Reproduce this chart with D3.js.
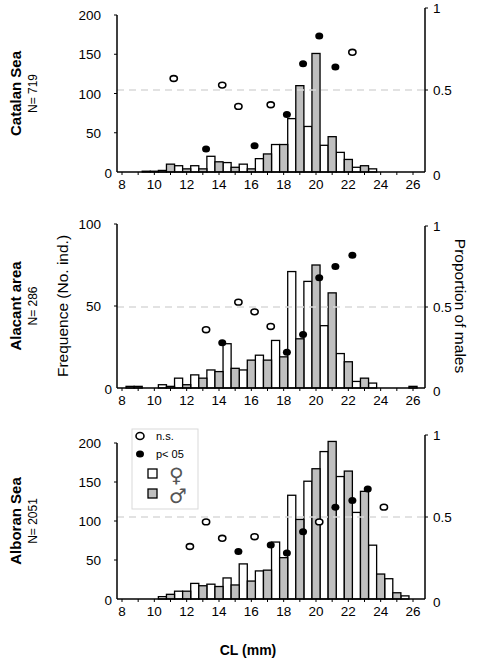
<!DOCTYPE html>
<html><head><meta charset="utf-8">
<script src="https://cdn.jsdelivr.net/npm/d3@7"></script>
<style>body{margin:0;background:#fff}text{font-family:Arial,"Liberation Sans",sans-serif}</style>
</head><body>
<svg id="chart" width="479" height="672"></svg>
<script>
// CL classes: female bar centred at k-0.5, male bar centred at k
var femaleCL = [9, 10, 11, 12, 13, 14, 15, 16, 17, 18, 19, 20, 21, 22, 23, 24, 25, 26];
var maleCL = [9, 10, 11, 12, 13, 14, 15, 16, 17, 18, 19, 20, 21, 22, 23, 24, 25, 26];

// Catalan Sea
var catFemale = [0, 1, 2, 8, 8, 20, 12, 10, 17, 35, 68, 58, 34, 25, 6, 4, 0, 0];
var catMale   = [0, 1, 10, 4, 4, 13, 6, 4, 23, 35, 110, 151, 45, 16, 8, 0, 0, 0];
var catNsX = [11.2, 14.2, 15.2, 17.2, 22.25];
var catNsY = [0.57, 0.53, 0.40, 0.41, 0.73];
var catSigX = [13.2, 16.2, 18.2, 19.2, 20.2, 21.2];
var catSigY = [0.14, 0.16, 0.35, 0.66, 0.83, 0.64];

// Alacant area
var alaFemale = [1, 0, 2, 6, 8, 11, 27, 11, 20, 29, 71, 65, 38, 21, 4, 3, 0, 0];
var alaMale   = [1, 0, 1, 2, 6, 10, 12, 17, 17, 19, 30, 75, 58, 16, 6, 0, 0, 1];
var alaNsX = [13.2, 15.2, 16.2, 17.2];
var alaNsY = [0.36, 0.53, 0.47, 0.38];
var alaSigX = [14.2, 18.2, 19.2, 20.2, 21.2, 22.25];
var alaSigY = [0.28, 0.22, 0.33, 0.68, 0.75, 0.82];

// Alboran Sea
var albFemale = [0, 0, 3, 10, 20, 19, 27, 45, 36, 73, 133, 151, 189, 157, 111, 69, 26, 4];
var albMale   = [0, 0, 6, 10, 17, 16, 18, 23, 37, 53, 102, 167, 202, 164, 138, 32, 8, 0];
var albNsX = [12.2, 13.2, 14.2, 16.2, 20.2, 24.2];
var albNsY = [0.32, 0.47, 0.37, 0.38, 0.47, 0.56];
var albSigX = [15.2, 17.2, 18.2, 19.2, 21.2, 22.25, 23.2];
var albSigY = [0.29, 0.33, 0.28, 0.41, 0.56, 0.60, 0.67];

var xTicks = [8, 9, 10, 11, 12, 13, 14, 15, 16, 17, 18, 19, 20, 21, 22, 23, 24, 25, 26];
var xLabels = [8, 10, 12, 14, 16, 18, 20, 22, 24, 26];

var svg = d3.select("#chart");
var x = d3.scaleLinear().domain([8, 26]).range([122, 413]);
var axL = 117, axR = 425;
var grey = "#bfbfbf";

var panels = [
  {name: "Catalan Sea", n: "N= 719", f: catFemale, m: catMale, nsX: catNsX, nsY: catNsY, sX: catSigX, sY: catSigY,
   y0: 172, yTop: 15, rTop: 8, max: 200, ticks: [50, 100, 150, 200]},
  {name: "Alacant area", n: "N= 286", f: alaFemale, m: alaMale, nsX: alaNsX, nsY: alaNsY, sX: alaSigX, sY: alaSigY,
   y0: 388, yTop: 224, rTop: 226, max: 100, ticks: [50, 100]},
  {name: "Alboran Sea", n: "N= 2051", f: albFemale, m: albMale, nsX: albNsX, nsY: albNsY, sX: albSigX, sY: albSigY,
   y0: 599, yTop: 443, rTop: 435, max: 200, ticks: [50, 100, 150, 200]}
];

// half bar width in px (0.25 mm)
var hw = x(8.25) - x(8);

panels.forEach(function(p) {
  var y = d3.scaleLinear().domain([0, p.max]).range([p.y0, p.yTop]);
  var yr = d3.scaleLinear().domain([0, 1]).range([p.y0, p.rTop]);
  var g = svg.append("g");

  // female bars
  g.selectAll(".f").data(femaleCL).enter().append("rect")
    .attr("x", function(d) { return x(d - 0.5) - hw; })
    .attr("width", 2 * hw)
    .attr("y", function(d, i) { return y(p.f[i]); })
    .attr("height", function(d, i) { return p.y0 - y(p.f[i]); })
    .attr("fill", "#fff").attr("stroke", "#000").attr("stroke-width", 1.3)
    .style("display", function(d, i) { return p.f[i] > 0 ? null : "none"; });
  // male bars
  g.selectAll(".m").data(maleCL).enter().append("rect")
    .attr("x", function(d) { return x(d) - hw; })
    .attr("width", 2 * hw)
    .attr("y", function(d, i) { return y(p.m[i]); })
    .attr("height", function(d, i) { return p.y0 - y(p.m[i]); })
    .attr("fill", grey).attr("stroke", "#000").attr("stroke-width", 1.3)
    .style("display", function(d, i) { return p.m[i] > 0 ? null : "none"; });

  // 0.5 reference line
  g.append("line").attr("x1", axL).attr("x2", axR).attr("y1", yr(0.5)).attr("y2", yr(0.5))
    .attr("stroke", "#d9d9d9").attr("stroke-width", 1.5).attr("stroke-dasharray", "7,5");

  // proportion points
  g.selectAll(".ns").data(p.nsX).enter().append("ellipse")
    .attr("cx", function(d) { return x(d); })
    .attr("cy", function(d, i) { return yr(p.nsY[i]); })
    .attr("rx", 3.6).attr("ry", 2.9)
    .attr("fill", "#fff").attr("stroke", "#000").attr("stroke-width", 1.6);
  g.selectAll(".sig").data(p.sX).enter().append("ellipse")
    .attr("cx", function(d) { return x(d); })
    .attr("cy", function(d, i) { return yr(p.sY[i]); })
    .attr("rx", 4).attr("ry", 3.5).attr("fill", "#000");

  // axes
  var xa = g.append("g").attr("transform", "translate(0," + p.y0 + ")");
  xa.append("line").attr("x1", axL).attr("x2", axR).attr("stroke", "#000").attr("stroke-width", 1.5);
  xa.selectAll(".t").data(xTicks).enter().append("line")
    .attr("x1", function(d) { return x(d); }).attr("x2", function(d) { return x(d); })
    .attr("y1", 0).attr("y2", 3).attr("stroke", "#000");
  xa.selectAll(".l").data(xLabels).enter().append("text")
    .attr("x", function(d) { return x(d); }).attr("y", 17)
    .attr("text-anchor", "middle").attr("font-size", 13.5).text(function(d) { return d; });

  var ya = g.append("g").attr("transform", "translate(" + axL + ",0)");
  ya.append("line").attr("y1", p.y0).attr("y2", p.yTop).attr("stroke", "#000").attr("stroke-width", 1.5);
  ya.selectAll(".t").data(p.ticks).enter().append("line")
    .attr("x1", -3).attr("x2", 0).attr("y1", function(d) { return y(d); }).attr("y2", function(d) { return y(d); })
    .attr("stroke", "#000");
  ya.selectAll(".l").data(p.ticks).enter().append("text")
    .attr("x", -16).attr("y", function(d) { return y(d) + 5; })
    .attr("text-anchor", "end").attr("font-size", 13.5).text(function(d) { return d; });
  ya.append("text").attr("x", -5).attr("y", p.y0 + 6).attr("text-anchor", "end")
    .attr("font-size", 13.5).text("0");

  var ra = g.append("g").attr("transform", "translate(" + axR + ",0)");
  ra.append("line").attr("y1", p.y0).attr("y2", p.rTop).attr("stroke", "#000").attr("stroke-width", 1.5);
  ra.selectAll(".t").data([0.5, 1]).enter().append("line")
    .attr("x1", 0).attr("x2", 3).attr("y1", function(d) { return yr(d); }).attr("y2", function(d) { return yr(d); })
    .attr("stroke", "#000");
  ra.selectAll(".l").data([0, 0.5, 1]).enter().append("text")
    .attr("x", 8).attr("y", function(d) { return yr(d) + 5 + (d === 0 ? 3 : 0); })
    .attr("font-size", 13.5).text(function(d) { return d; });

  // panel labels
  var cy = (p.y0 + p.yTop) / 2;
  svg.append("text").attr("transform", "translate(21," + cy + ") rotate(-90)")
    .attr("text-anchor", "middle").attr("font-size", 15).attr("font-weight", "bold").text(p.name);
  svg.append("text").attr("transform", "translate(37," + cy + ") rotate(-90)")
    .attr("text-anchor", "middle").attr("font-size", 12).text(p.n);
});

svg.append("text").attr("transform", "translate(68,306) rotate(-90)")
  .attr("text-anchor", "middle").attr("font-size", 15.5).text("Frequence (No. ind.)");
svg.append("text").attr("transform", "translate(455,306) rotate(90)")
  .attr("text-anchor", "middle").attr("font-size", 15.5).text("Proportion of males");
svg.append("text").attr("x", 248).attr("y", 655).attr("text-anchor", "middle")
  .attr("font-size", 14).attr("font-weight", "bold").text("CL (mm)");

// legend
var lg = svg.append("g");
lg.append("rect").attr("x", 132).attr("y", 429).attr("width", 66).attr("height", 80)
  .attr("fill", "#fff").attr("stroke", "#d9d9d9");
lg.append("ellipse").attr("cx", 140).attr("cy", 436).attr("rx", 4).attr("ry", 3.5)
  .attr("fill", "#fff").attr("stroke", "#000").attr("stroke-width", 1.6);
lg.append("text").attr("x", 156).attr("y", 440).attr("font-size", 11).text("n.s.");
lg.append("ellipse").attr("cx", 140).attr("cy", 454).attr("rx", 4).attr("ry", 3.5).attr("fill", "#000");
lg.append("text").attr("x", 156).attr("y", 458).attr("font-size", 11).text("p< 05");
lg.append("rect").attr("x", 148).attr("y", 469).attr("width", 9).attr("height", 9)
  .attr("fill", "#fff").attr("stroke", "#000").attr("stroke-width", 1.3);
lg.append("text").attr("x", 169).attr("y", 482).attr("font-size", 20)
  .attr("fill", "#555").style("font-family", "'DejaVu Sans'").text("\u2640\uFE0E");
lg.append("rect").attr("x", 148).attr("y", 489).attr("width", 9).attr("height", 9)
  .attr("fill", grey).attr("stroke", "#000").attr("stroke-width", 1.3);
lg.append("text").attr("x", 169).attr("y", 503).attr("font-size", 20)
  .attr("fill", "#555").style("font-family", "'DejaVu Sans'").text("\u2642\uFE0E");
</script>
</body></html>
